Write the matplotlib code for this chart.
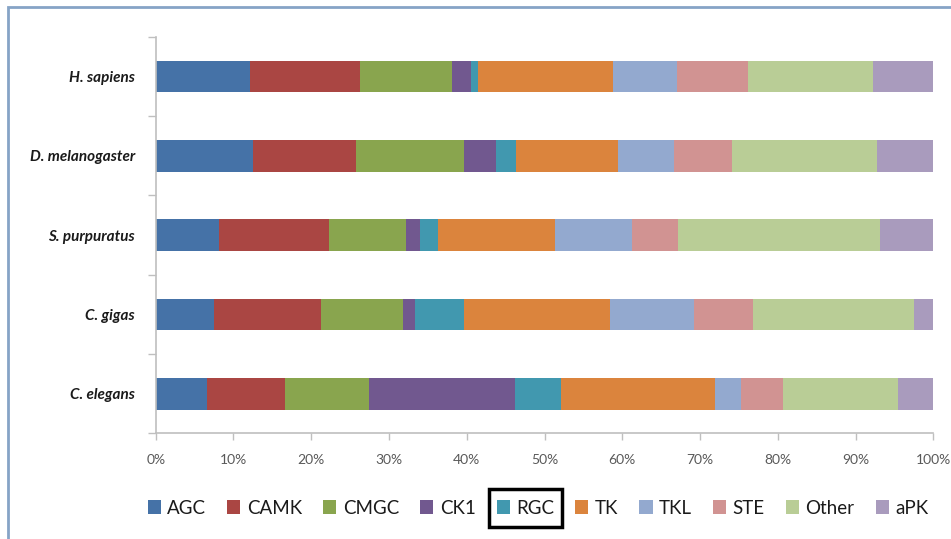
import matplotlib
matplotlib.use("Agg")
import matplotlib.pyplot as plt
from matplotlib.patches import Rectangle
import numpy as np

plt.rcParams['font.family'] = ['Lato', 'DejaVu Sans']

# species, top to bottom as in the figure
species = ["H. sapiens", "D. melanogaster", "S. purpuratus", "C. gigas", "C. elegans"]
families = ["AGC", "CAMK", "CMGC", "CK1", "RGC", "TK", "TKL", "STE", "Other", "aPK"]
colors = ["#4572A7", "#AA4643", "#89A54E", "#71588F", "#4198AF",
          "#DB843D", "#93A9CF", "#D19392", "#B9CD96", "#A99BBD"]

# percent of kinome per family, one list per species
h_sapiens = [12.1, 14.2, 11.8, 2.4, 1.0, 17.3, 8.3, 9.1, 16.0, 7.8]
d_melanogaster = [12.5, 13.3, 13.8, 4.1, 2.6, 13.2, 7.1, 7.5, 18.7, 7.2]
s_purpuratus = [8.2, 14.1, 9.9, 1.8, 2.3, 15.0, 9.9, 6.0, 26.0, 6.8]
c_gigas = [7.5, 13.7, 10.6, 1.5, 6.3, 18.8, 10.8, 7.6, 20.7, 2.5]
c_elegans = [6.6, 10.0, 10.8, 18.8, 5.9, 19.8, 3.4, 5.4, 14.7, 4.6]

data = np.array([h_sapiens, d_melanogaster, s_purpuratus, c_gigas, c_elegans])
data = data / data.sum(axis=1, keepdims=True) * 100

W, H = 951, 539
fig = plt.figure(figsize=(W / 100, H / 100), dpi=100)
ax = fig.add_axes([155.7 / W, 1 - 433.4 / H, 777.6 / W, 396.5 / H])

ypos = np.arange(len(species))
left = np.zeros(len(species))
for i, fam in enumerate(families):
    ax.barh(ypos, data[:, i], left=left, height=0.4, color=colors[i],
            label=fam, linewidth=0)
    left += data[:, i]

ax.set_ylim(len(species) - 0.5, -0.5)
ax.set_xlim(0, 100)
ax.set_yticks(ypos)
ax.set_yticklabels(species, fontsize=11, fontweight="bold", style="italic",
                   color="#1a1a1a")
ax.set_yticks(np.arange(-0.5, len(species)), minor=True)
ax.tick_params(axis="y", which="major", length=0, pad=15)
ax.tick_params(axis="y", which="minor", length=6, color="#bfbfbf", width=1)
ax.set_xticks(np.arange(0, 101, 10))
ax.set_xticklabels([f"{v}%" for v in range(0, 101, 10)], fontsize=10,
                   color="#595959")
ax.tick_params(axis="x", length=5, color="#bfbfbf", width=1, pad=10)

for s in ["top", "right"]:
    ax.spines[s].set_visible(False)
for s in ["left", "bottom"]:
    ax.spines[s].set_color("#bfbfbf")
    ax.spines[s].set_linewidth(1.2)

leg = fig.legend(loc="center", bbox_to_anchor=(538 / W, 1 - 508 / H), ncol=10,
                 frameon=False, fontsize=13.5, handlelength=0.7, handleheight=0.7,
                 handletextpad=0.35, columnspacing=1.12, borderaxespad=0)
for t in leg.get_texts():
    t.set_color("#1a1a1a")

# outer chart frame
fig.add_artist(Rectangle((8 / W, -0.1), 1.2, 1 - 7.5 / H + 0.1,
                         transform=fig.transFigure, fill=False,
                         edgecolor="#86a4c6", linewidth=2))

# highlight box around the RGC legend entry
fig.canvas.draw()
r = fig.canvas.get_renderer()
idx = families.index("RGC")
hb = leg.legend_handles[idx].get_window_extent(r)
tb = leg.get_texts()[idx].get_window_extent(r)
x0, x1 = hb.x0 - 8, tb.x1 + 8
yc = (tb.y0 + tb.y1) / 2
fig.add_artist(Rectangle((x0 / W, (yc - 19) / H), (x1 - x0) / W, 38 / H,
                         transform=fig.transFigure, fill=False,
                         edgecolor="black", linewidth=2.5))

fig.savefig("out.png", dpi=100)
